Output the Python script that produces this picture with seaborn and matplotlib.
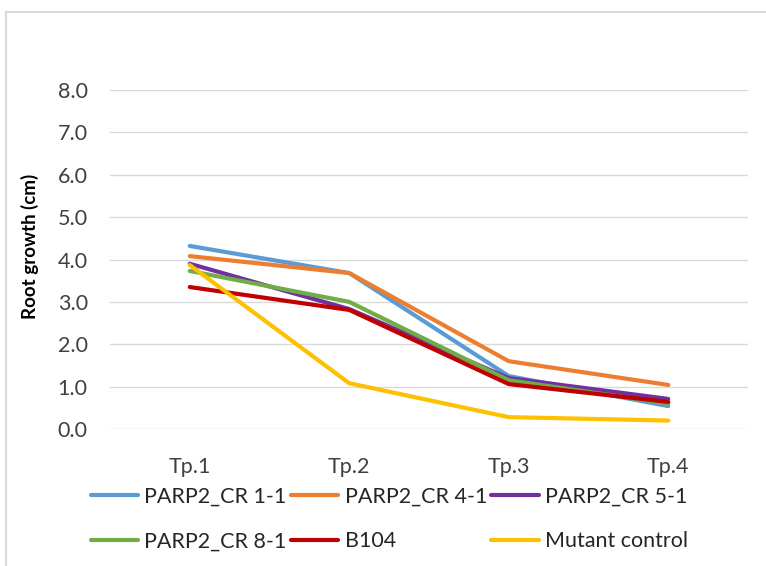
import matplotlib
matplotlib.use("Agg")
import matplotlib.pyplot as plt
import seaborn as sns
import pandas as pd
from matplotlib.patches import Rectangle

# Root growth per time point for each line
timepoints = ["Tp.1", "Tp.2", "Tp.3", "Tp.4"]
series_names = ["PARP2_CR 1-1", "PARP2_CR 4-1", "PARP2_CR 5-1",
                "PARP2_CR 8-1", "B104", "Mutant control"]
cr_1_1 = [4.32, 3.68, 1.25, 0.54]
cr_4_1 = [4.08, 3.68, 1.60, 1.04]
cr_5_1 = [3.90, 2.83, 1.20, 0.71]
cr_8_1 = [3.73, 3.00, 1.15, 0.60]
b104 = [3.35, 2.81, 1.06, 0.64]
mutant_control = [3.87, 1.08, 0.28, 0.20]
y_ticks = [0, 1, 2, 3, 4, 5, 6, 7, 8]

colors = ["#5B9BD5", "#ED7D31", "#7030A0", "#70AD47", "#C00000", "#FFC000"]

values = [cr_1_1, cr_4_1, cr_5_1, cr_8_1, b104, mutant_control]
df = pd.DataFrame(
    [(name, tp, v) for name, vals in zip(series_names, values)
     for tp, v in zip(timepoints, vals)],
    columns=["line", "timepoint", "growth"],
)

sns.set_theme(style="white")
plt.rcParams["font.family"] = ["Lato", "DejaVu Sans"]

fig = plt.figure(figsize=(7.66, 5.66), dpi=100)
W, H = 766, 566
ax = fig.add_axes([110 / W, 1 - 429 / H, (748 - 110) / W, (429 - 90) / H])

# chart frame
fig.patches.append(Rectangle((6 / W, -0.1), 1.2, 1 - 12 / H + 0.1,
                             transform=fig.transFigure, fill=False,
                             edgecolor="#D9D9D9", linewidth=1.5, zorder=0))

sns.lineplot(data=df, x="timepoint", y="growth", hue="line",
             hue_order=series_names, palette=colors, sort=False,
             linewidth=3, ax=ax, legend=True)

ax.set_xlim(-0.5, 3.5)
ax.set_ylim(0, 8)
ax.set_yticks(y_ticks)
ax.set_yticklabels([f"{t:.1f}" for t in y_ticks])
ax.grid(axis="y", color="#D9D9D9", linewidth=1)
ax.grid(axis="x", visible=False)
ax.set_axisbelow(True)
for s in ax.spines.values():
    s.set_visible(False)
ax.tick_params(axis="y", length=0, pad=16, labelsize=15.5, labelcolor="#404040")
ax.tick_params(axis="x", length=0, pad=20, labelsize=15.5, labelcolor="#404040")
ax.set_xlabel("")
ax.set_ylabel("Root growth (cm)", fontsize=13.5, fontweight="bold",
              color="#000000")
ax.yaxis.set_label_coords(-0.112, 0.54)

handles, labels = ax.get_legend_handles_labels()
ax.get_legend().remove()
order = [0, 3, 1, 4, 2, 5]
fig.legend([handles[i] for i in order], [labels[i] for i in order],
           ncol=3, loc="upper left", bbox_to_anchor=(82 / W, 1 - 478 / H),
           frameon=False, fontsize=15.5, handlelength=2.2, handletextpad=0.3,
           columnspacing=0.2, labelspacing=1.15, borderaxespad=0)

fig.savefig("out.png", dpi=100)
